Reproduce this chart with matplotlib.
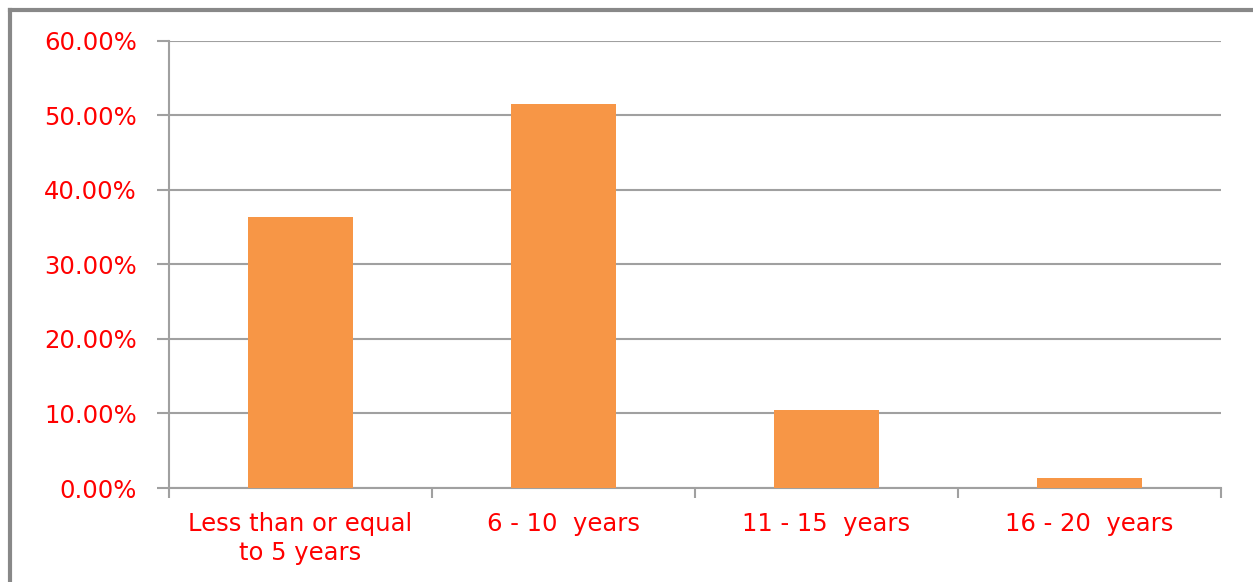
import numpy as np
import matplotlib.pyplot as plt
from matplotlib.lines import Line2D
from matplotlib.ticker import FuncFormatter

categorias = ["Less than or equal\nto 5 years", "6 - 10  years", "11 - 15  years", "16 - 20  years"]
valores = [36.3, 51.5, 10.5, 1.4]
yticks = [0, 10, 20, 30, 40, 50, 60]

rojo = "#FF0000"
gris = "#A0A0A0"
naranja = "#F79646"

fig = plt.figure(figsize=(12.53, 5.82), dpi=100)
ax = fig.add_axes([169/1253, 1-488/582, (1221-169)/1253, (488-40.5)/582])

x = np.arange(len(categorias))
ax.bar(x, valores, width=0.4, color=naranja, zorder=3)

ax.set_xlim(-0.5, len(categorias) - 0.5)
ax.set_ylim(0, 60)
ax.set_yticks(yticks)
ax.yaxis.set_major_formatter(FuncFormatter(lambda v, p: "%.2f%%" % v))
ax.grid(axis="y", color=gris, linewidth=1.5, zorder=0)

ax.set_xticks(x)
ax.set_xticklabels(categorias, linespacing=1.3)
ax.set_xticks(np.arange(-0.5, len(categorias)), minor=True)
ax.tick_params(axis="x", which="major", length=0, pad=17, labelsize=17.5, labelcolor=rojo)
ax.tick_params(axis="x", which="minor", length=7, width=1.5, color=gris, direction="out")
ax.tick_params(axis="y", length=9, width=1.5, color=gris, pad=14, labelsize=17.5, labelcolor=rojo)

for lado in ["top", "right"]:
    ax.spines[lado].set_visible(False)
for lado in ["left", "bottom"]:
    ax.spines[lado].set_color(gris)
    ax.spines[lado].set_linewidth(1.5)

# marco gris de la imagen
fig.add_artist(Line2D([10/1253, 1], [1-10/582, 1-10/582], color="#888888", linewidth=3))
fig.add_artist(Line2D([10/1253, 10/1253], [0, 1-10/582], color="#888888", linewidth=3))

fig.savefig("out.png", dpi=100)
